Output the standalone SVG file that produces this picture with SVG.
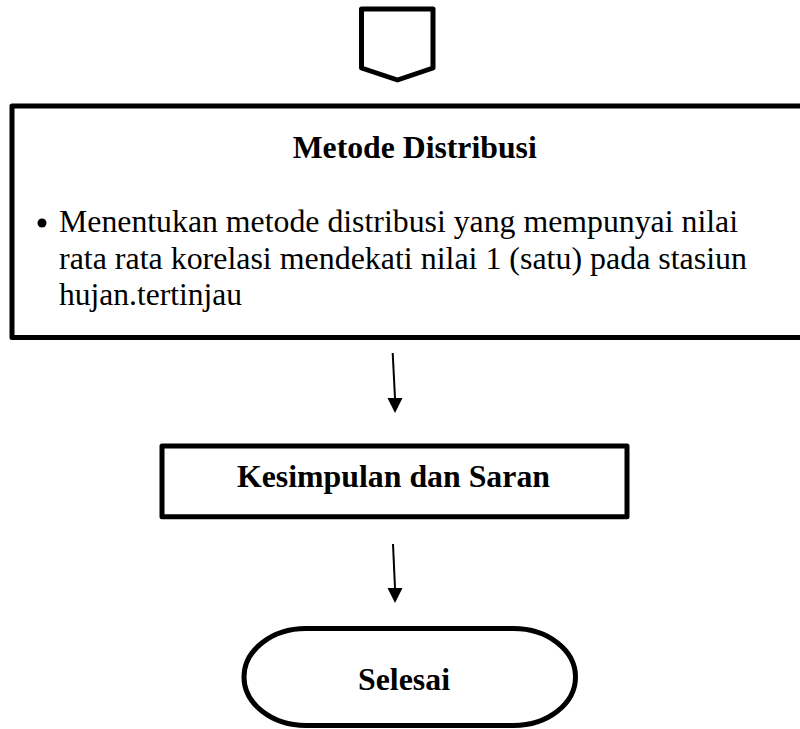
<svg xmlns="http://www.w3.org/2000/svg" width="800" height="729" viewBox="0 0 800 729">
<defs>
<style>
.shape{fill:#fff;stroke:#000;stroke-width:5;stroke-linejoin:round}
.conn{stroke:#000;stroke-width:2;fill:none}
text{font-family:'Liberation Serif','Times New Roman',Times,serif;font-size:32px;fill:#000}
.b{font-weight:bold}
</style>
</defs>
<rect width="800" height="729" fill="#fff"/>
<g id="connector-offpage">
<path class="shape" d="M361.5,9 L433,9 L433,68 L397.5,80 L361.5,68 Z"/>
</g>
<g id="metode-distribusi">
<rect class="shape" x="12" y="106" width="800" height="231.5"/>
<text class="b" x="292.7" y="158" textLength="244" lengthAdjust="spacingAndGlyphs">Metode Distribusi</text>
<circle cx="42" cy="223" r="4.5" fill="#000"/>
<text x="59" y="232" textLength="679" lengthAdjust="spacingAndGlyphs">Menentukan metode distribusi yang mempunyai nilai</text>
<text x="59" y="268.5" textLength="688" lengthAdjust="spacingAndGlyphs">rata rata korelasi mendekati nilai 1 (satu) pada stasiun</text>
<text x="59" y="305" textLength="183" lengthAdjust="spacingAndGlyphs">hujan.tertinjau</text>
</g>
<g id="kesimpulan">
<rect class="shape" x="162" y="446" width="465" height="70.7"/>
<text class="b" x="237" y="487" textLength="313" lengthAdjust="spacingAndGlyphs">Kesimpulan dan Saran</text>
</g>
<g id="selesai">
<rect class="shape" x="244" y="628.5" width="331.5" height="97" rx="62" ry="48.5"/>
<text class="b" x="358" y="690" textLength="92" lengthAdjust="spacingAndGlyphs">Selesai</text>
</g>
<g id="connectors">
<path d="M392.7,353 L395,398" class="conn"/>
<path d="M387.5,398 L402.5,398 L395,413 Z" fill="#000"/>
<path d="M393,544 L395,588" class="conn"/>
<path d="M387.5,588 L402.5,588 L395,603 Z" fill="#000"/>
</g>
</svg>
